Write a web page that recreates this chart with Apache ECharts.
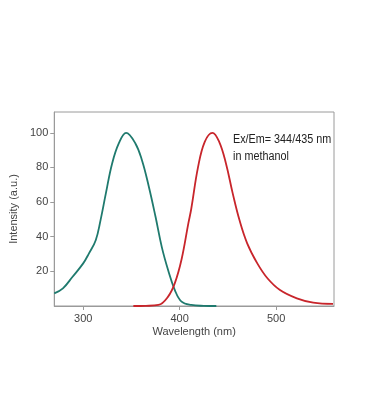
<!DOCTYPE html>
<html><head><meta charset="utf-8">
<script src="https://cdn.jsdelivr.net/npm/echarts@6/dist/echarts.min.js"></script>
<style>html,body{margin:0;padding:0;background:#fff}#c{width:366px;height:420px}</style>
</head><body><div id="c"></div>
<script>
const exWavelength = [270, 279, 289, 300, 306, 313, 318, 323.5, 330, 337, 344.5, 354, 361, 368, 375, 381.5, 388, 395, 402, 412, 425, 438];
const exIntensity  = [7.3, 10.2, 16.9, 24.6, 30.4, 38, 49.6, 65, 82.3, 94, 100, 94, 84, 69, 51.5, 34, 20.8, 9.2, 2.5, 0.6, 0.1, 0];
const emWavelength = [352, 365, 378, 388, 395, 402, 409, 412, 419, 426, 434, 441, 448, 455, 462, 470, 480.5, 491, 504, 521.5, 538.5, 559];
const emIntensity  = [0, 0.1, 0.6, 5.4, 13.2, 27, 47.7, 56, 80, 94.8, 100, 94.8, 82.3, 65, 49.6, 36.2, 24.6, 16, 9.2, 4.4, 1.9, 1.2];
const xTicks = [300, 400, 500];
const yTicks = [20, 40, 60, 80, 100];
const annotation = ['Ex/Em= 344/435 nm', 'in methanol'];

const pair = (xs, ys) => xs.map((x, i) => [x, ys[i]]);
const chart = echarts.init(document.getElementById('c'));
const font = 'Liberation Sans, Arial, sans-serif';
chart.setOption({
  animation: false,
  grid: {left: 51, right: 32, top: 112, bottom: 114, show: true, borderColor: '#9a9a9a', borderWidth: 1},
  xAxis: {
    type: 'value', min: 270, max: 560,
    name: 'Wavelength (nm)', nameLocation: 'middle', nameGap: 20,
    nameTextStyle: {fontFamily: font, fontSize: 11, color: '#444'},
    axisLine: {lineStyle: {color: '#9a9a9a'}},
    axisTick: {show: true, length: 4, lineStyle: {color: '#9a9a9a'}, customValues: xTicks},
    axisLabel: {fontFamily: font, fontSize: 11, color: '#444', margin: 7, customValues: xTicks},
    splitLine: {show: false}
  },
  yAxis: {
    type: 'value', min: 0, max: 112,
    name: 'Intensity (a.u.)', nameLocation: 'middle', nameGap: 30,
    nameTextStyle: {fontFamily: font, fontSize: 11, color: '#444'},
    axisLine: {show: true, lineStyle: {color: '#9a9a9a'}},
    axisTick: {show: true, length: 4, lineStyle: {color: '#9a9a9a'}, customValues: yTicks},
    axisLabel: {fontFamily: font, fontSize: 11, color: '#444', margin: 6, customValues: yTicks},
    splitLine: {show: false}
  },
  graphic: [{
    type: 'text', left: 233, top: 131, scaleX: 0.9,
    style: {text: annotation.join('\n'), fontFamily: font, fontSize: 12, lineHeight: 17, fill: '#222'}
  }],
  series: [
    {type: 'line', data: pair(exWavelength, exIntensity), smooth: 0.4, showSymbol: false,
     lineStyle: {color: '#1f7a6e', width: 1.8}},
    {type: 'line', data: pair(emWavelength, emIntensity), smooth: 0.4, showSymbol: false,
     lineStyle: {color: '#c8252b', width: 1.8}}
  ]
});
</script></body></html>
